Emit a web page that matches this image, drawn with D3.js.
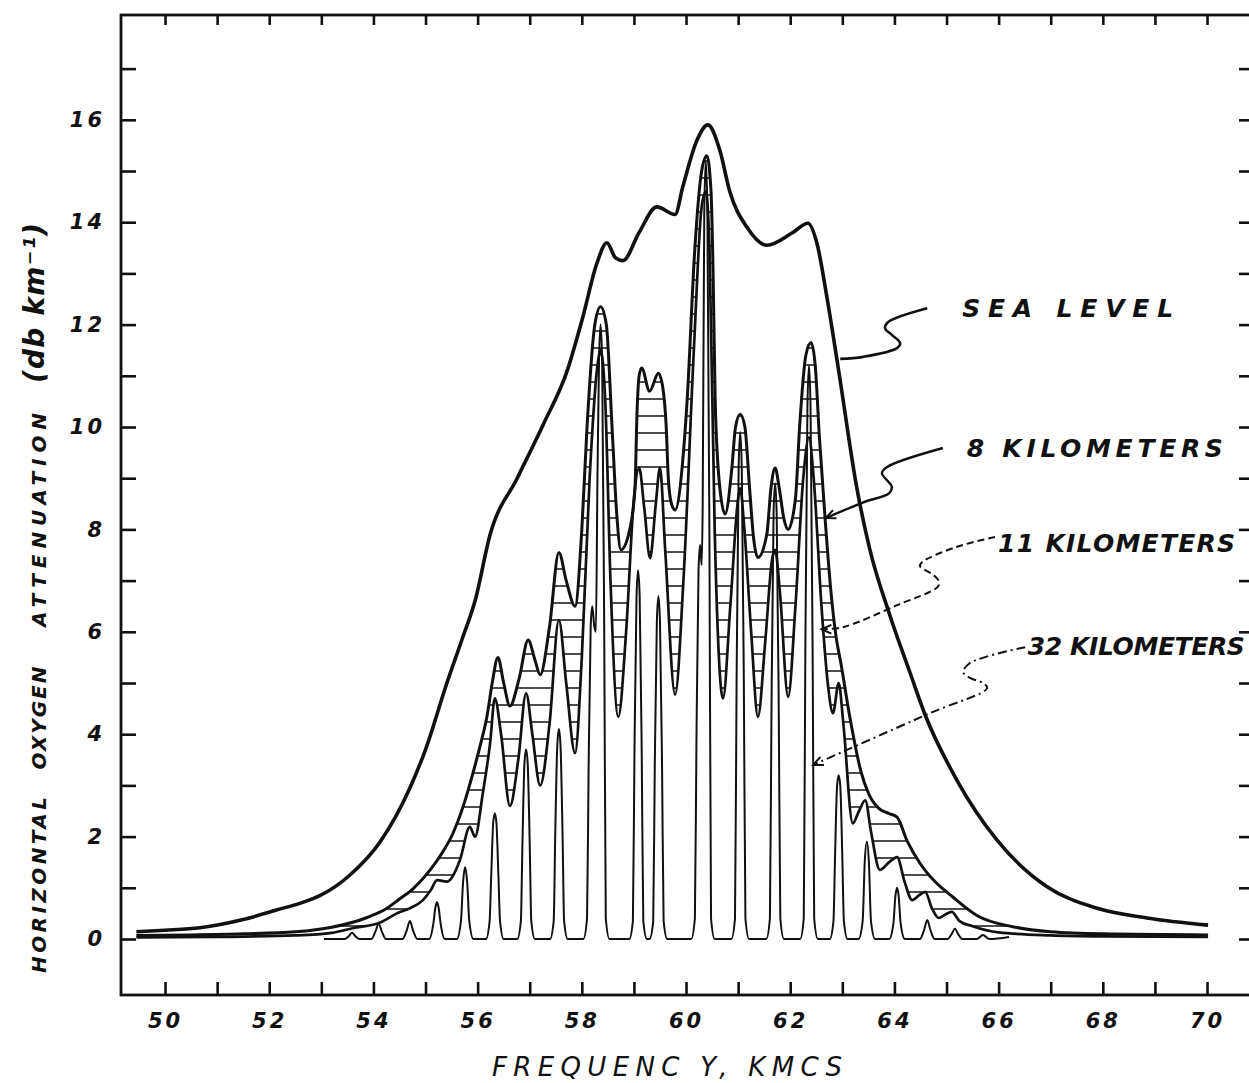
<!DOCTYPE html>
<html>
<head>
<meta charset="utf-8">
<script src="https://cdn.jsdelivr.net/npm/d3@7"></script>
<style>
body { margin: 0; background: #fff; }
text { font-family: "DejaVu Sans", sans-serif; font-style: oblique; font-weight: bold; fill: #111; }
</style>
</head>
<body>
<div id="chart"></div>
<script>
// frequency (KMCS), attenuation (db/km)
var seaLevel = [[49.45,0.14],[50.0,0.17],[50.67,0.22],[51.5,0.38],[52.15,0.57],[52.6,0.7],[52.98,0.85],[53.55,1.25],[54.13,1.9],[54.7,2.95],[55.0,3.7],[55.41,5.0],[55.7,5.85],[55.95,6.6],[56.24,7.9],[56.76,9.0],[57.26,10.05],[57.72,11.1],[58.02,12.15],[58.29,13.2],[58.48,13.6],[58.65,13.3],[58.79,13.25],[59.1,13.8],[59.44,14.3],[59.79,14.15],[59.94,14.7],[60.21,15.6],[60.42,15.9],[60.65,15.4],[60.84,14.6],[61.17,13.9],[61.55,13.55],[62.05,13.8],[62.34,13.98],[62.51,13.6],[62.71,12.5],[62.93,11.1],[63.28,8.8],[63.53,7.6],[63.92,6.3],[64.3,5.2],[64.6,4.35],[65.2,3.1],[65.97,1.93],[66.93,1.02],[67.89,0.6],[68.85,0.41],[70.02,0.27]];

var km8 = [[49.45,0.07],[50.5,0.08],[51.5,0.1],[52.5,0.14],[53.2,0.23],[53.88,0.42],[54.26,0.6],[54.5,0.78],[54.76,0.98],[55.09,1.35],[55.28,1.62],[55.53,2.07],[55.72,2.58],[55.91,3.24],[56.05,3.78],[56.18,4.35],[56.28,5.0],[56.39,5.5],[56.5,5.0],[56.62,4.55],[56.8,5.1],[56.97,5.84],[57.1,5.45],[57.2,5.16],[57.38,6.1],[57.56,7.55],[57.7,7.0],[57.87,6.5],[58.0,8.0],[58.1,10.0],[58.25,12.0],[58.36,12.35],[58.47,12.0],[58.58,10.0],[58.67,8.3],[58.75,7.6],[58.92,8.0],[59.02,8.8],[59.06,10.3],[59.1,11.0],[59.15,11.15],[59.3,10.7],[59.47,11.05],[59.55,10.8],[59.62,10.0],[59.66,9.0],[59.72,8.5],[59.79,8.38],[59.95,9.5],[60.02,10.5],[60.17,13.5],[60.3,15.0],[60.4,15.3],[60.48,14.6],[60.52,13.0],[60.56,10.5],[60.65,8.8],[60.75,8.3],[60.88,9.2],[60.95,10.0],[61.04,10.25],[61.13,10.0],[61.22,8.8],[61.3,7.8],[61.38,7.45],[61.55,7.9],[61.63,8.8],[61.71,9.2],[61.79,8.8],[61.88,8.2],[61.96,8.0],[62.1,8.6],[62.18,10.0],[62.3,11.4],[62.4,11.65],[62.48,11.2],[62.56,9.8],[62.67,8.2],[62.78,6.8],[62.88,5.9],[62.97,5.4],[63.15,4.3],[63.35,3.3],[63.5,2.85],[63.7,2.55],[63.9,2.45],[64.05,2.38],[64.25,1.9],[64.49,1.48],[64.75,1.15],[65.12,0.82],[65.6,0.45],[66.27,0.24],[67.0,0.14],[68.0,0.1],[70.02,0.08]];

var km11 = [[49.45,0.03],[51.0,0.04],[52.5,0.07],[53.2,0.12],[53.6,0.21],[54.13,0.32],[54.45,0.5],[54.7,0.6],[54.95,0.76],[55.1,0.95],[55.22,1.15],[55.41,1.12],[55.66,1.54],[55.85,2.19],[55.95,2.0],[56.1,2.85],[56.24,3.83],[56.33,4.7],[56.45,4.0],[56.62,2.6],[56.78,3.5],[56.93,4.8],[57.05,4.0],[57.2,3.0],[57.38,4.2],[57.56,6.23],[57.7,5.0],[57.87,3.63],[58.0,5.5],[58.15,9.0],[58.3,11.2],[58.36,11.5],[58.45,10.5],[58.55,7.0],[58.7,4.34],[58.85,6.0],[59.0,8.6],[59.1,9.2],[59.2,8.4],[59.31,7.44],[59.42,8.5],[59.5,9.2],[59.6,7.6],[59.79,4.77],[59.95,7.0],[60.15,11.5],[60.3,14.3],[60.38,14.6],[60.45,13.5],[60.55,8.0],[60.71,4.7],[60.85,6.5],[61.0,8.6],[61.04,8.8],[61.12,8.0],[61.25,6.0],[61.38,4.34],[61.52,5.8],[61.65,7.4],[61.71,7.6],[61.8,6.8],[61.96,4.73],[62.1,6.5],[62.25,9.0],[62.36,9.8],[62.45,9.0],[62.6,6.5],[62.72,5.0],[62.82,4.41],[62.93,5.0],[63.02,4.2],[63.2,2.26],[63.32,2.5],[63.44,2.71],[63.55,2.1],[63.72,1.35],[63.9,1.5],[64.05,1.6],[64.2,1.1],[64.34,0.76],[64.47,0.85],[64.59,0.92],[64.72,0.6],[64.85,0.41],[64.98,0.48],[65.1,0.53],[65.25,0.35],[65.5,0.25],[66.0,0.13],[67.0,0.07],[68.0,0.05],[70.02,0.04]];

var km32 = [[53.05,0.0],
  [53.45,0.0],[53.53,0.06],[53.59,0.12],[53.65,0.06],[53.73,0.0],
  [53.96,0.0],[54.04,0.15],[54.1,0.3],[54.16,0.15],[54.24,0.0],
  [54.56,0.0],[54.64,0.17],[54.7,0.35],[54.76,0.17],[54.84,0.0],
  [55.07,0.0],[55.15,0.3],[55.19,0.62],[55.22,0.72],[55.25,0.62],[55.29,0.3],[55.37,0.0],
  [55.6,0.0],[55.68,0.35],[55.72,1.1],[55.76,1.4],[55.8,1.1],[55.84,0.35],[55.92,0.0],
  [56.16,0.0],[56.23,0.35],[56.26,1.2],[56.3,2.28],[56.33,2.45],[56.36,2.28],[56.4,1.2],[56.43,0.35],[56.5,0.0],
  [56.76,0.0],[56.83,0.35],[56.86,1.85],[56.9,3.45],[56.93,3.7],[56.96,3.45],[57.0,1.85],[57.03,0.35],[57.1,0.0],
  [57.39,0.0],[57.46,0.35],[57.49,2.05],[57.53,3.8],[57.56,4.1],[57.59,3.8],[57.63,2.05],[57.66,0.35],[57.73,0.0],
  [58.03,0.0],[58.1,0.4],[58.13,3.3],[58.17,6.1],[58.2,6.5],[58.24,6.1],[58.27,6.0],[58.3,9.0],[58.33,11.3],[58.36,12.0],[58.39,11.3],[58.43,6.0],[58.46,0.4],[58.53,0.0],
  [58.91,0.0],[58.98,0.35],[59.01,3.6],[59.05,6.7],[59.08,7.2],[59.11,6.7],[59.15,3.6],[59.18,0.35],[59.25,0.0],
  [59.3,0.0],[59.37,0.35],[59.4,3.35],[59.44,6.2],[59.47,6.7],[59.5,6.2],[59.54,3.35],[59.57,0.35],[59.64,0.0],
  [60.1,0.0],[60.17,0.4],[60.2,3.85],[60.24,7.2],[60.27,7.7],[60.3,7.3],[60.32,8.5],[60.35,14.2],[60.38,15.2],[60.41,14.2],[60.45,7.6],[60.48,0.4],[60.55,0.0],
  [60.87,0.0],[60.94,0.4],[60.97,4.95],[61.01,9.2],[61.04,9.9],[61.07,9.2],[61.11,4.95],[61.14,0.4],[61.21,0.0],
  [61.54,0.0],[61.61,0.4],[61.64,4.45],[61.68,8.3],[61.71,8.9],[61.74,8.3],[61.78,4.45],[61.81,0.4],[61.88,0.0],
  [62.19,0.0],[62.26,0.4],[62.29,5.6],[62.33,10.4],[62.36,11.2],[62.39,10.4],[62.43,5.6],[62.46,0.4],[62.53,0.0],
  [62.76,0.0],[62.83,0.35],[62.86,1.6],[62.9,3.0],[62.93,3.2],[62.96,3.0],[63.0,1.6],[63.03,0.35],[63.1,0.0],
  [63.31,0.0],[63.39,0.35],[63.43,1.5],[63.47,1.9],[63.51,1.5],[63.55,0.35],[63.63,0.0],
  [63.9,0.0],[63.98,0.3],[64.02,0.85],[64.05,1.0],[64.08,0.85],[64.12,0.3],[64.2,0.0],
  [64.49,0.0],[64.57,0.18],[64.63,0.37],[64.69,0.18],[64.77,0.0],
  [65.02,0.0],[65.1,0.1],[65.16,0.2],[65.22,0.1],[65.3,0.0],
  [65.58,0.0],[65.7,0.08],[65.82,0.0],[66.2,0.04]];

var xTicks = d3.range(50, 71, 1);
var yTicks = d3.range(0, 18, 1);

var curveLabels = [
  { text: "SEA LEVEL", f: 65.3, v: 12.15, len: 211 },
  { text: "8 KILOMETERS", f: 65.39, v: 9.41, len: 256 },
  { text: "11 KILOMETERS", f: 65.99, v: 7.56, len: 237 },
  { text: "32 KILOMETERS", f: 66.56, v: 5.55, len: 217 }
];

var seaLeader = [[64.63,12.32],[63.88,12.05],[63.82,11.93],[63.95,11.8],[64.11,11.64],[64.05,11.54],[63.4,11.37],[62.96,11.33]];
var leader8 = [[64.93,9.59],[63.86,9.22],[63.76,9.1],[63.95,8.83],[63.9,8.71],[63.38,8.52],[62.68,8.22]];
var leader11 = [[65.93,7.85],[65.2,7.66],[64.53,7.36],[64.49,7.28],[64.72,7.13],[64.84,7.01],[64.84,6.89],[64.05,6.52],[63.01,6.09],[62.6,6.05]];
var leader32 = [[66.51,5.7],[65.45,5.39],[65.32,5.21],[65.45,5.1],[65.7,5.0],[65.78,4.9],[64.68,4.41],[62.44,3.4]];

var width = 1249, height = 1083;
var ink = "#111";

var svg = d3.select("#chart")
    .append("svg")
    .attr("width", width)
    .attr("height", height);

var x = d3.scaleLinear().domain([49.155, 70.844]).range([121, 1251]);
var y = d3.scaleLinear().domain([-1.094, 18.047]).range([995, 15]);

var defs = svg.append("defs");

var hatch = defs.append("pattern")
    .attr("id", "hatch")
    .attr("patternUnits", "userSpaceOnUse")
    .attr("width", 20)
    .attr("height", 17);
hatch.append("line")
    .attr("x1", 0).attr("x2", 20).attr("y1", 8).attr("y2", 8)
    .attr("stroke", ink)
    .attr("stroke-width", 1.5);

defs.append("marker")
    .attr("id", "arrow")
    .attr("viewBox", "0 0 10 10")
    .attr("refX", 9).attr("refY", 5)
    .attr("markerWidth", 13).attr("markerHeight", 11)
    .attr("markerUnits", "userSpaceOnUse")
    .attr("orient", "auto")
    .append("path")
    .attr("d", "M0,1 L9,5 L0,9")
    .attr("fill", "none")
    .attr("stroke", ink)
    .attr("stroke-width", 1.8);

var line = d3.line()
    .x(d => x(d[0]))
    .y(d => y(d[1]))
    .curve(d3.curveMonotoneX);

var area = d3.area()
    .x(d => x(d[0]))
    .y0(y(0))
    .y1(d => y(d[1]))
    .curve(d3.curveMonotoneX);

// hatch the band between the 8 km and 11 km curves
var mask = defs.append("mask").attr("id", "band")
    .attr("maskUnits", "userSpaceOnUse")
    .attr("x", 0).attr("y", 0).attr("width", width).attr("height", height);
mask.append("path").datum(km8).attr("fill", "white").attr("d", area);
mask.append("path").datum(km11).attr("fill", "black").attr("d", area);

svg.append("rect")
    .attr("x", x.range()[0]).attr("y", y.range()[1])
    .attr("width", x.range()[1] - x.range()[0])
    .attr("height", y.range()[0] - y.range()[1])
    .attr("fill", "url(#hatch)")
    .attr("mask", "url(#band)");

// frame and ticks
svg.append("rect")
    .attr("x", x.range()[0]).attr("y", y.range()[1])
    .attr("width", x.range()[1] - x.range()[0])
    .attr("height", y.range()[0] - y.range()[1])
    .attr("fill", "none")
    .attr("stroke", ink)
    .attr("stroke-width", 2.8);

function styleAxis(g) {
    g.select(".domain").remove();
    g.selectAll(".tick line").attr("stroke", ink).attr("stroke-width", 2.6);
    g.selectAll(".tick text")
        .attr("fill", ink)
        .style("font-family", "'DejaVu Sans', sans-serif")
        .style("font-style", "oblique")
        .style("font-weight", "bold")
        .style("font-size", "21px")
        .style("letter-spacing", "3px");
}

svg.append("g")
    .attr("transform", "translate(0," + y.range()[0] + ")")
    .call(d3.axisBottom(x).tickValues(xTicks).tickSize(-13).tickPadding(18)
        .tickFormat(d => d % 2 === 0 ? d : ""))
    .call(styleAxis);

svg.append("g")
    .attr("transform", "translate(0," + y.range()[1] + ")")
    .call(d3.axisTop(x).tickValues(xTicks).tickSize(-10).tickFormat(""))
    .call(styleAxis);

svg.append("g")
    .attr("transform", "translate(" + x.range()[0] + ",0)")
    .call(d3.axisLeft(y).tickValues(yTicks).tickSize(-15).tickPadding(16)
        .tickFormat(d => d % 2 === 0 ? d : ""))
    .call(styleAxis);

svg.append("g")
    .attr("transform", "translate(" + x.range()[1] + ",0)")
    .call(d3.axisRight(y).tickValues(yTicks).tickSize(-12).tickFormat(""))
    .call(styleAxis);

// curves
svg.append("path").datum(seaLevel)
    .attr("fill", "none").attr("stroke", ink).attr("stroke-width", 3.6)
    .attr("stroke-linejoin", "round").attr("d", line);

svg.append("path").datum(km8)
    .attr("fill", "none").attr("stroke", ink).attr("stroke-width", 3)
    .attr("stroke-linejoin", "round").attr("d", line);

svg.append("path").datum(km11)
    .attr("fill", "none").attr("stroke", ink).attr("stroke-width", 2.7)
    .attr("stroke-linejoin", "round").attr("d", line);

svg.append("path").datum(km32)
    .attr("fill", "none").attr("stroke", ink).attr("stroke-width", 2)
    .attr("stroke-linejoin", "round").attr("d", line);

// leaders
var leaderLine = d3.line()
    .x(d => x(d[0]))
    .y(d => y(d[1]))
    .curve(d3.curveCatmullRom.alpha(0.5));

svg.append("path").datum(seaLeader)
    .attr("fill", "none").attr("stroke", ink).attr("stroke-width", 2.6)
    .attr("d", leaderLine);

svg.append("path").datum(leader8)
    .attr("fill", "none").attr("stroke", ink).attr("stroke-width", 2.4)
    .attr("marker-end", "url(#arrow)")
    .attr("d", leaderLine);

svg.append("path").datum(leader11)
    .attr("fill", "none").attr("stroke", ink).attr("stroke-width", 2)
    .attr("stroke-dasharray", "7,4")
    .attr("marker-end", "url(#arrow)")
    .attr("d", leaderLine);

svg.append("path").datum(leader32)
    .attr("fill", "none").attr("stroke", ink).attr("stroke-width", 2)
    .attr("stroke-dasharray", "9,4,2,4")
    .attr("marker-end", "url(#arrow)")
    .attr("d", leaderLine);

svg.selectAll(".curve-label")
    .data(curveLabels)
    .enter().append("text")
    .attr("class", "curve-label")
    .attr("x", d => x(d.f))
    .attr("y", d => y(d.v))
    .attr("textLength", d => d.len)
    .attr("lengthAdjust", "spacing")
    .style("font-size", "25px")
    .text(d => d.text);

// axis titles
svg.append("text")
    .attr("x", 492).attr("y", 1076)
    .attr("textLength", 350)
    .attr("lengthAdjust", "spacing")
    .style("font-size", "26px")
    .style("font-weight", "normal")
    .text("FREQUENC Y,  KMCS");

var yTitle = [
    { text: "HORIZONTAL", c: 885, len: 176, size: 20 },
    { text: "OXYGEN", c: 718, len: 103, size: 20 },
    { text: "ATTENUATION", c: 520, len: 214, size: 20 },
    { text: "(db km\u207B\u00B9)", c: 303, len: 160, size: 28 }
];

svg.selectAll(".y-title")
    .data(yTitle)
    .enter().append("text")
    .attr("class", "y-title")
    .attr("transform", d => "translate(" + (d.size > 24 ? 44 : 46) + "," + d.c + ") rotate(-90)")
    .attr("text-anchor", "middle")
    .attr("textLength", d => d.len)
    .attr("lengthAdjust", "spacing")
    .style("font-size", d => d.size + "px")
    .text(d => d.text);
</script>
</body>
</html>
